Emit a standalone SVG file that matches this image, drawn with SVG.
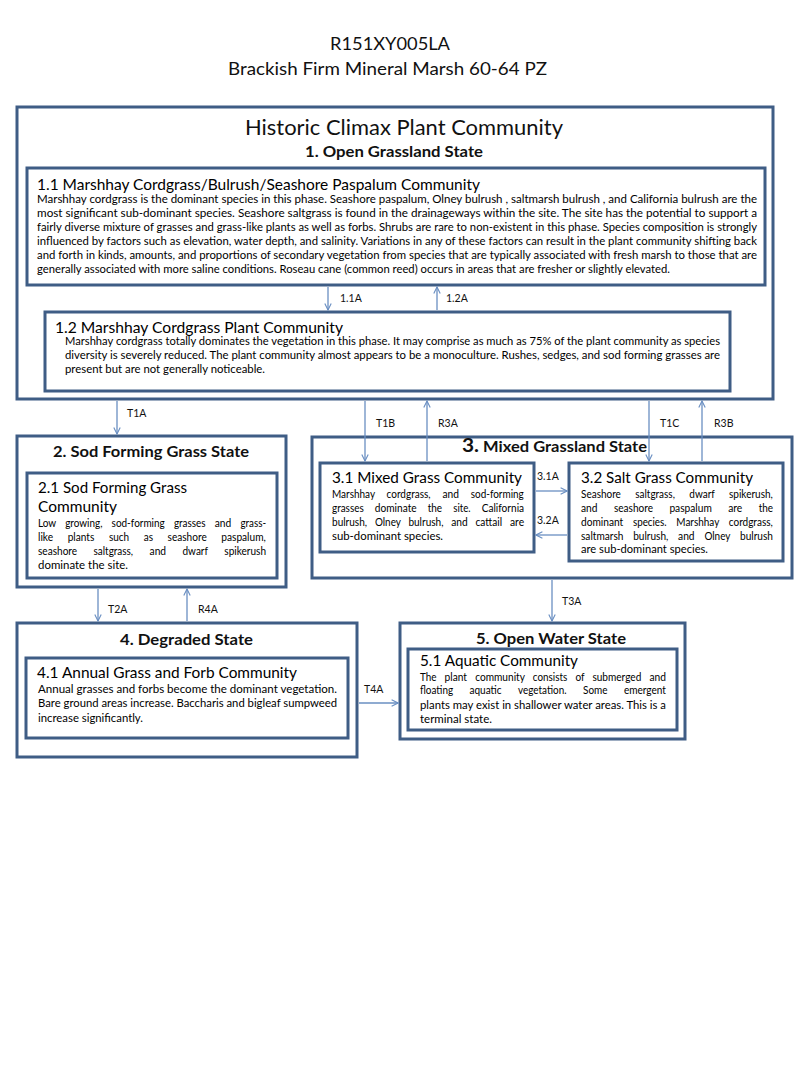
<svg xmlns="http://www.w3.org/2000/svg" width="800" height="1067" viewBox="0 0 800 1067">
<style>
text{font-family:Lato,"Liberation Sans",sans-serif;fill:#111}
.box{fill:#fff;stroke:#3f5d85;stroke-width:3}
.t{font-size:17px}
.st{font-size:15px;font-weight:bold}
.h{font-size:15px;fill:#000}
.b{font-size:10.5px;fill:#000}
.lab{font-size:10.5px}
.arr{stroke:#6a8fc2;stroke-width:1.3;fill:none;marker-end:url(#ah)}
</style>
<defs>
<marker id="ah" viewBox="0 0 10 10" refX="9" refY="5" markerWidth="8" markerHeight="8" markerUnits="userSpaceOnUse" orient="auto">
<path d="M1,1 L9,5 L1,9" fill="none" stroke="#6a8fc2" stroke-width="1.4"/>
</marker>
</defs>
<rect width="800" height="1067" fill="#fff"/>
<g id="title">
<text class="t" x="390" y="50" text-anchor="middle" textLength="120" lengthAdjust="spacingAndGlyphs">R151XY005LA</text>
<text class="t" x="387.5" y="75" text-anchor="middle" textLength="319" lengthAdjust="spacingAndGlyphs">Brackish Firm Mineral Marsh 60-64 PZ</text>
</g>
<g id="state1">
<rect class="box" x="17" y="107" width="756" height="292"/>
<text x="404" y="135" text-anchor="middle" font-size="21" textLength="318" lengthAdjust="spacingAndGlyphs">Historic Climax Plant Community</text>
<text class="st" x="394" y="157" text-anchor="middle" textLength="178" lengthAdjust="spacingAndGlyphs">1. Open Grassland State</text>
</g>
<g id="comm11">
<rect class="box" x="27" y="168" width="738" height="117"/>
<text class="h" x="37" y="190" textLength="443" lengthAdjust="spacingAndGlyphs">1.1 Marshhay Cordgrass/Bulrush/Seashore Paspalum Community</text>
<text class="b" x="37" y="203" textLength="720" lengthAdjust="spacingAndGlyphs">Marshhay cordgrass is the dominant species in this phase. Seashore paspalum, Olney bulrush , saltmarsh bulrush , and California bulrush are the</text>
<text class="b" x="37" y="217" textLength="720" lengthAdjust="spacingAndGlyphs">most significant sub-dominant species.  Seashore saltgrass  is found in the drainageways within the site.  The site has the potential  to support a</text>
<text class="b" x="37" y="231" textLength="720" lengthAdjust="spacingAndGlyphs">fairly diverse  mixture of grasses and grass-like plants as well as forbs.  Shrubs are rare to non-existent  in this phase. Species composition is strongly</text>
<text class="b" x="37" y="245" textLength="720" lengthAdjust="spacingAndGlyphs">influenced by  factors such as elevation, water depth, and salinity.  Variations in any of these factors can result in the plant community shifting back</text>
<text class="b" x="37" y="259" textLength="720" lengthAdjust="spacingAndGlyphs">and forth in kinds, amounts, and proportions of secondary vegetation from species that are typically associated with fresh marsh to those that are</text>
<text class="b" x="37" y="273" textLength="633" lengthAdjust="spacingAndGlyphs">generally associated with more saline conditions. Roseau cane (common reed) occurs in areas that are fresher or slightly elevated.</text>
</g>
<g id="comm12">
<rect class="box" x="45" y="312" width="685" height="79"/>
<text class="h" x="55" y="333" textLength="288" lengthAdjust="spacingAndGlyphs">1.2 Marshhay Cordgrass Plant  Community</text>
<text class="b" x="65" y="345" textLength="655" lengthAdjust="spacingAndGlyphs">Marshhay cordgrass totally dominates the vegetation in this phase.  It may comprise as much as 75% of the plant community as species</text>
<text class="b" x="65" y="359" textLength="655" lengthAdjust="spacingAndGlyphs">diversity is severely reduced.  The plant community almost appears to be a monoculture.  Rushes, sedges, and sod forming grasses are</text>
<text class="b" x="65" y="373" textLength="200" lengthAdjust="spacingAndGlyphs">present but are not generally noticeable.</text>
</g>
<g id="state2">
<rect class="box" x="17" y="436" width="269" height="151"/>
<text class="st" x="151" y="457" text-anchor="middle" textLength="196" lengthAdjust="spacingAndGlyphs">2. Sod Forming Grass State</text>
</g>
<g id="comm21">
<rect class="box" x="27" y="473" width="250" height="105"/>
<text class="h" x="38" y="493" textLength="149" lengthAdjust="spacingAndGlyphs">2.1 Sod Forming Grass</text>
<text class="h" x="38" y="512" textLength="79" lengthAdjust="spacingAndGlyphs">Community</text>
<text class="b" y="527" lengthAdjust="spacingAndGlyphs"><tspan x="38" textLength="18" lengthAdjust="spacingAndGlyphs">Low</tspan> <tspan x="65.2" textLength="37.2" lengthAdjust="spacingAndGlyphs">growing,</tspan> <tspan x="111.6" textLength="53.1" lengthAdjust="spacingAndGlyphs">sod-forming</tspan> <tspan x="173.9" textLength="31.7" lengthAdjust="spacingAndGlyphs">grasses</tspan> <tspan x="214.8" textLength="16.5" lengthAdjust="spacingAndGlyphs">and</tspan> <tspan x="240.5" textLength="25.6" lengthAdjust="spacingAndGlyphs">grass-</tspan></text>
<text class="b" y="541"><tspan x="38" textLength="15.1" lengthAdjust="spacingAndGlyphs">like</tspan> <tspan x="67.7" textLength="26.6" lengthAdjust="spacingAndGlyphs">plants</tspan> <tspan x="108.9" textLength="20.2" lengthAdjust="spacingAndGlyphs">such</tspan> <tspan x="143.7" textLength="9.3" lengthAdjust="spacingAndGlyphs">as</tspan> <tspan x="167.6" textLength="39.1" lengthAdjust="spacingAndGlyphs">seashore</tspan> <tspan x="221.3" textLength="44.5" lengthAdjust="spacingAndGlyphs">paspalum,</tspan></text>
<text class="b" y="555"><tspan x="38" textLength="39.1" lengthAdjust="spacingAndGlyphs">seashore</tspan> <tspan x="93.5" textLength="39.6" lengthAdjust="spacingAndGlyphs">saltgrass,</tspan> <tspan x="149.6" textLength="16.5" lengthAdjust="spacingAndGlyphs">and</tspan> <tspan x="182.5" textLength="25.3" lengthAdjust="spacingAndGlyphs">dwarf</tspan> <tspan x="224.3" textLength="41.8" lengthAdjust="spacingAndGlyphs">spikerush</tspan></text>
<text class="b" x="38" y="569" textLength="90" lengthAdjust="spacingAndGlyphs">dominate the site.</text>
</g>
<g id="state3">
<rect class="box" x="312" y="437" width="480" height="141"/>
<text class="st" x="462" y="452" textLength="185" lengthAdjust="spacingAndGlyphs"><tspan font-size="19">3.</tspan> Mixed Grassland State</text>
</g>
<g id="comm31">
<rect class="box" x="320" y="463" width="214" height="89"/>
<text class="h" x="332" y="483" textLength="190" lengthAdjust="spacingAndGlyphs">3.1 Mixed Grass Community</text>
<text class="b" y="498"><tspan x="332" textLength="42.8" lengthAdjust="spacingAndGlyphs">Marshhay</tspan> <tspan x="386.6" textLength="44" lengthAdjust="spacingAndGlyphs">cordgrass,</tspan> <tspan x="442.4" textLength="16.5" lengthAdjust="spacingAndGlyphs">and</tspan> <tspan x="470.7" textLength="53.1" lengthAdjust="spacingAndGlyphs">sod-forming</tspan></text>
<text class="b" y="512"><tspan x="332" textLength="31.7" lengthAdjust="spacingAndGlyphs">grasses</tspan> <tspan x="374.8" textLength="41.8" lengthAdjust="spacingAndGlyphs">dominate</tspan> <tspan x="427.7" textLength="14.4" lengthAdjust="spacingAndGlyphs">the</tspan> <tspan x="453.2" textLength="17.4" lengthAdjust="spacingAndGlyphs">site.</tspan> <tspan x="481.7" textLength="42.4" lengthAdjust="spacingAndGlyphs">California</tspan></text>
<text class="b" y="526"><tspan x="332" textLength="35.1" lengthAdjust="spacingAndGlyphs">bulrush,</tspan> <tspan x="374.9" textLength="25.8" lengthAdjust="spacingAndGlyphs">Olney</tspan> <tspan x="408.4" textLength="35.1" lengthAdjust="spacingAndGlyphs">bulrush,</tspan> <tspan x="451.3" textLength="16.5" lengthAdjust="spacingAndGlyphs">and</tspan> <tspan x="475.5" textLength="26.7" lengthAdjust="spacingAndGlyphs">cattail</tspan> <tspan x="510" textLength="14.1" lengthAdjust="spacingAndGlyphs">are</tspan></text>
<text class="b" x="332" y="540" textLength="111" lengthAdjust="spacingAndGlyphs">sub-dominant species.</text>
</g>
<g id="comm32">
<rect class="box" x="569" y="463" width="214" height="98"/>
<text class="h" x="581" y="483" textLength="172" lengthAdjust="spacingAndGlyphs">3.2 Salt Grass Community</text>
<text class="b" y="498"><tspan x="581" textLength="39.9" lengthAdjust="spacingAndGlyphs">Seashore</tspan> <tspan x="635.3" textLength="39.6" lengthAdjust="spacingAndGlyphs">saltgrass,</tspan> <tspan x="689.3" textLength="25.3" lengthAdjust="spacingAndGlyphs">dwarf</tspan> <tspan x="729" textLength="43.9" lengthAdjust="spacingAndGlyphs">spikerush,</tspan></text>
<text class="b" y="512"><tspan x="581" textLength="16.5" lengthAdjust="spacingAndGlyphs">and</tspan> <tspan x="613.9" textLength="39.1" lengthAdjust="spacingAndGlyphs">seashore</tspan> <tspan x="669.4" textLength="42.4" lengthAdjust="spacingAndGlyphs">paspalum</tspan> <tspan x="728.2" textLength="14.1" lengthAdjust="spacingAndGlyphs">are</tspan> <tspan x="758.7" textLength="14.4" lengthAdjust="spacingAndGlyphs">the</tspan></text>
<text class="b" y="526"><tspan x="581" textLength="42.2" lengthAdjust="spacingAndGlyphs">dominant</tspan> <tspan x="632.9" textLength="33.7" lengthAdjust="spacingAndGlyphs">species.</tspan> <tspan x="676.3" textLength="42.8" lengthAdjust="spacingAndGlyphs">Marshhay</tspan> <tspan x="728.8" textLength="44" lengthAdjust="spacingAndGlyphs">cordgrass,</tspan></text>
<text class="b" y="540"><tspan x="581" textLength="42.4" lengthAdjust="spacingAndGlyphs">saltmarsh</tspan> <tspan x="633.2" textLength="35.1" lengthAdjust="spacingAndGlyphs">bulrush,</tspan> <tspan x="678.1" textLength="16.5" lengthAdjust="spacingAndGlyphs">and</tspan> <tspan x="704.4" textLength="25.8" lengthAdjust="spacingAndGlyphs">Olney</tspan> <tspan x="740" textLength="33" lengthAdjust="spacingAndGlyphs">bulrush</tspan></text>
<text class="b" x="581" y="553" textLength="127" lengthAdjust="spacingAndGlyphs">are sub-dominant species.</text>
</g>
<g id="state4">
<rect class="box" x="17" y="623" width="340" height="134"/>
<text class="st" x="186.5" y="645" text-anchor="middle" textLength="133" lengthAdjust="spacingAndGlyphs">4. Degraded State</text>
</g>
<g id="comm41">
<rect class="box" x="26" y="658" width="322" height="80"/>
<text class="h" x="37" y="678" textLength="260" lengthAdjust="spacingAndGlyphs">4.1 Annual Grass and Forb Community</text>
<text class="b" x="38" y="693" textLength="299" lengthAdjust="spacingAndGlyphs">Annual grasses and forbs become the dominant vegetation.</text>
<text class="b" x="38" y="707" textLength="299" lengthAdjust="spacingAndGlyphs">Bare ground areas increase.  Baccharis and bigleaf sumpweed</text>
<text class="b" x="38" y="722" textLength="105" lengthAdjust="spacingAndGlyphs">increase significantly.</text>
</g>
<g id="state5">
<rect class="box" x="400" y="623" width="285" height="116"/>
<text class="st" x="551" y="644" text-anchor="middle" textLength="150" lengthAdjust="spacingAndGlyphs">5. Open Water State</text>
</g>
<g id="comm51">
<rect class="box" x="408" y="649" width="269" height="81"/>
<text class="h" x="420" y="666" textLength="158" lengthAdjust="spacingAndGlyphs">5.1 Aquatic Community</text>
<text class="b" y="681"><tspan x="420" textLength="16.5" lengthAdjust="spacingAndGlyphs">The</tspan> <tspan x="444.6" textLength="22.4" lengthAdjust="spacingAndGlyphs">plant</tspan> <tspan x="475.2" textLength="49.5" lengthAdjust="spacingAndGlyphs">community</tspan> <tspan x="532.8" textLength="34.4" lengthAdjust="spacingAndGlyphs">consists</tspan> <tspan x="575.4" textLength="8.9" lengthAdjust="spacingAndGlyphs">of</tspan> <tspan x="592.4" textLength="48.9" lengthAdjust="spacingAndGlyphs">submerged</tspan> <tspan x="649.5" textLength="16.5" lengthAdjust="spacingAndGlyphs">and</tspan></text>
<text class="b" y="694"><tspan x="420" textLength="33.1" lengthAdjust="spacingAndGlyphs">floating</tspan> <tspan x="469.5" textLength="32.1" lengthAdjust="spacingAndGlyphs">aquatic</tspan> <tspan x="518.1" textLength="48.4" lengthAdjust="spacingAndGlyphs">vegetation.</tspan> <tspan x="583" textLength="24.5" lengthAdjust="spacingAndGlyphs">Some</tspan> <tspan x="623.9" textLength="42.1" lengthAdjust="spacingAndGlyphs">emergent</tspan></text>
<text class="b" x="420" y="709" textLength="246" lengthAdjust="spacingAndGlyphs">plants may exist in shallower water areas.  This is a</text>
<text class="b" x="420" y="723" textLength="72" lengthAdjust="spacingAndGlyphs">terminal state.</text>
</g>
<g id="connectors">
<line class="arr" x1="328" y1="287" x2="328" y2="310"/>
<line class="arr" x1="437" y1="310" x2="437" y2="287"/>
<line class="arr" x1="117" y1="401" x2="117" y2="434"/>
<line class="arr" x1="365" y1="401" x2="365" y2="461"/>
<line class="arr" x1="427" y1="461" x2="427" y2="401"/>
<line class="arr" x1="649" y1="401" x2="649" y2="461"/>
<line class="arr" x1="702" y1="461" x2="702" y2="401"/>
<line class="arr" x1="536" y1="491" x2="567" y2="491"/>
<line class="arr" x1="567" y1="535" x2="536" y2="535"/>
<line class="arr" x1="552" y1="580" x2="552" y2="621"/>
<line class="arr" x1="98" y1="589" x2="98" y2="621"/>
<line class="arr" x1="187" y1="621" x2="187" y2="589"/>
<line class="arr" x1="359" y1="703" x2="398" y2="703"/>
<text class="lab" x="340" y="302">1.1A</text>
<text class="lab" x="446" y="302">1.2A</text>
<text class="lab" x="127" y="417">T1A</text>
<text class="lab" x="376" y="427">T1B</text>
<text class="lab" x="438" y="427">R3A</text>
<text class="lab" x="660" y="427">T1C</text>
<text class="lab" x="714" y="427">R3B</text>
<text class="lab" x="537" y="480">3.1A</text>
<text class="lab" x="537" y="524">3.2A</text>
<text class="lab" x="108" y="613">T2A</text>
<text class="lab" x="198" y="613">R4A</text>
<text class="lab" x="562" y="605">T3A</text>
<text class="lab" x="364" y="693">T4A</text>
</g>
</svg>
